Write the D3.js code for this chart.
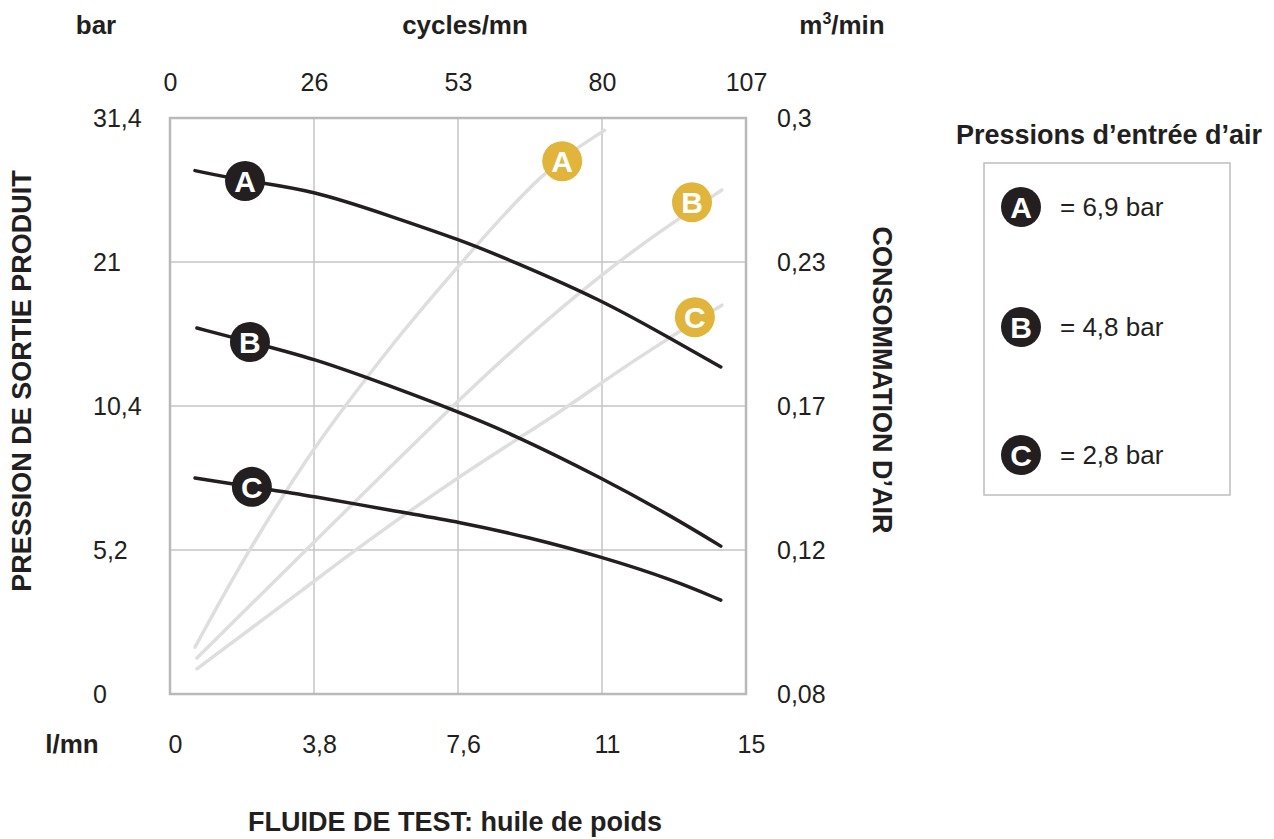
<!DOCTYPE html>
<html>
<head>
<meta charset="utf-8">
<script src="https://cdnjs.cloudflare.com/ajax/libs/d3/7.8.5/d3.min.js"></script>
<style>
  body { margin: 0; background: #fff; }
  text { font-family: "Liberation Sans", Arial, Helvetica, sans-serif; fill: #231f20; }
</style>
</head>
<body>
<div id="chart"></div>
<script>
// tick values of the four axes (equally spaced on the grid)
const flowTicks = [0, 3.8, 7.6, 11, 15];          // l/mn (bottom)
const cycleTicks = [0, 26, 53, 80, 107];           // cycles/mn (top)
const pressTicks = [0, 5.2, 10.4, 21, 31.4];       // bar (left)
const airTicks = [0.08, 0.12, 0.17, 0.23, 0.3];    // m3/min (right)

const series = ["A", "B", "C"];
const inletPressure = ["6,9", "4,8", "2,8"];

// outlet pressure curves [l/mn, bar]
const pressA = [[0.66, 27.6], [1.98, 26.85], [3.77, 26.2], [5.88, 24.25], [7.65, 22.6], [8.83, 21.14], [11, 18.2], [12.97, 15.26], [14.3, 13.27]];
const pressB = [[0.71, 16.14], [2.11, 15.11], [3.77, 13.93], [5.88, 11.8], [7.47, 10.26], [8.83, 9.43], [11, 7.8], [12.97, 6.39], [14.3, 5.34]];
const pressC = [[0.66, 7.8], [2.16, 7.48], [3.77, 7.15], [5.88, 6.61], [7.65, 6.21], [9.23, 5.67], [11, 4.95], [12.97, 4.12], [14.3, 3.39]];

// air consumption curves [l/mn, m3/min]
const airA = [[0.66, 0.093], [2.06, 0.12], [3.77, 0.155], [4.62, 0.17], [6.07, 0.2], [7.69, 0.23], [9.61, 0.275], [11.07, 0.294]];
const airB = [[0.71, 0.09], [3.59, 0.12], [7.44, 0.17], [9.3, 0.2], [11, 0.225], [12.61, 0.245], [14.33, 0.265]];
const airC = [[0.71, 0.087], [3.77, 0.111], [4.88, 0.12], [7.65, 0.146], [10.14, 0.169], [11, 0.18], [12.61, 0.196], [14.33, 0.212]];

// where the letter badges sit on the curves
const pressLabels = [[1.98, 26.85], [2.11, 15.11], [2.16, 7.48]];
const airLabels = [[10.06, 0.279], [13.5, 0.259], [13.58, 0.207]];

const W = 1274, H = 839;
const plot = {left: 170, right: 746, top: 118, bottom: 694};
const gold = "#e1b53c", ink = "#231f20";

const comma = d => String(d).replace(".", ",");
const steps = (a, b) => d3.range(5).map(i => a + i * (b - a) / 4);

const x = d3.scaleLinear().domain(flowTicks).range(steps(plot.left, plot.right));
const xTop = d3.scaleLinear().domain(cycleTicks).range(steps(plot.left, plot.right));
const yP = d3.scaleLinear().domain(pressTicks).range(steps(plot.bottom, plot.top));
const yA = d3.scaleLinear().domain(airTicks).range(steps(plot.bottom, plot.top));

const svg = d3.select("#chart").append("svg")
    .attr("width", W)
    .attr("height", H);

// grid
svg.append("g")
    .selectAll("line")
    .data(flowTicks.slice(1, -1))
    .join("line")
    .attr("x1", d => x(d)).attr("x2", d => x(d))
    .attr("y1", plot.top).attr("y2", plot.bottom)
    .attr("stroke", "#c4c4c4").attr("stroke-width", 1.5);
svg.append("g")
    .selectAll("line")
    .data(pressTicks.slice(1, -1))
    .join("line")
    .attr("x1", plot.left).attr("x2", plot.right)
    .attr("y1", d => yP(d)).attr("y2", d => yP(d))
    .attr("stroke", "#c4c4c4").attr("stroke-width", 1.5);
svg.append("rect")
    .attr("x", plot.left).attr("y", plot.top)
    .attr("width", plot.right - plot.left).attr("height", plot.bottom - plot.top)
    .attr("fill", "none").attr("stroke", "#b9b9b9").attr("stroke-width", 2.5);

// axes
function styleAxis(g) {
    g.select(".domain").remove();
    g.selectAll(".tick line").remove();
    g.selectAll("text").attr("font-size", 25).attr("font-family", null).attr("fill", ink);
}

svg.append("g")
    .attr("transform", `translate(0, ${plot.bottom})`)
    .call(d3.axisBottom(x).tickValues(flowTicks).tickFormat(comma).tickSize(0))
    .call(styleAxis)
    .selectAll("text").attr("y", 50).attr("dy", "0.35em").attr("dx", 5);

svg.append("g")
    .attr("transform", `translate(0, ${plot.top})`)
    .call(d3.axisTop(xTop).tickValues(cycleTicks).tickSize(0))
    .call(styleAxis)
    .selectAll("text").attr("y", -36).attr("dy", "0.35em");

svg.append("g")
    .attr("transform", `translate(${plot.left}, 0)`)
    .call(d3.axisLeft(yP).tickValues(pressTicks).tickFormat(comma).tickSize(0))
    .call(styleAxis)
    .selectAll("text").attr("x", 93 - plot.left).attr("text-anchor", "start");

svg.append("g")
    .attr("transform", `translate(${plot.right}, 0)`)
    .call(d3.axisRight(yA).tickValues(airTicks).tickFormat(comma).tickSize(0))
    .call(styleAxis)
    .selectAll("text").attr("x", 777 - plot.right).attr("text-anchor", "start");

// unit labels and titles
const bold = (t, px, py, size) => svg.append("text")
    .attr("x", px).attr("y", py)
    .attr("text-anchor", "middle").attr("dy", "0.35em")
    .attr("font-size", size || 26).attr("font-weight", "bold")
    .text(t);

bold("bar", 96, 25);
bold("cycles/mn", 465, 25);
const m3 = bold("", 842, 25);
m3.append("tspan").text("m");
m3.append("tspan").attr("font-size", 16).attr("dy", -10).text("3");
m3.append("tspan").attr("dy", 10).text("/min");
bold("l/mn", 72, 744);
bold("FLUIDE DE TEST: huile de poids", 455, 822, 27);
bold("PRESSION DE SORTIE PRODUIT", 0, 0, 27)
    .attr("transform", "translate(22, 381) rotate(-90)");
bold("CONSOMMATION D\u2019AIR", 0, 0, 27)
    .attr("transform", "translate(882, 380) rotate(90)");

// curves
const lineP = d3.line().x(d => x(d[0])).y(d => yP(d[1])).curve(d3.curveBasis);
const lineA = d3.line().x(d => x(d[0])).y(d => yA(d[1])).curve(d3.curveBasis);

svg.append("g")
    .selectAll("path")
    .data([airA, airB, airC])
    .join("path")
    .attr("d", lineA)
    .attr("fill", "none").attr("stroke", "#dedede")
    .attr("stroke-width", 3.5).attr("stroke-linecap", "round");

function badge(g, cx, cy, letter, color) {
    g.append("circle").attr("cx", cx).attr("cy", cy).attr("r", 20).attr("fill", color);
    g.append("text")
        .attr("x", cx).attr("y", cy)
        .attr("text-anchor", "middle").attr("dy", "0.36em")
        .attr("font-size", 30).attr("font-weight", "bold")
        .style("fill", "#fff")
        .text(letter);
}

const goldG = svg.append("g");
airLabels.forEach((d, i) => badge(goldG, x(d[0]), yA(d[1]), series[i], gold));

svg.append("g")
    .selectAll("path")
    .data([pressA, pressB, pressC])
    .join("path")
    .attr("d", lineP)
    .attr("fill", "none").attr("stroke", ink)
    .attr("stroke-width", 3.5).attr("stroke-linecap", "round");

const blackG = svg.append("g");
pressLabels.forEach((d, i) => badge(blackG, x(d[0]), yP(d[1]), series[i], ink));

// legend
bold("Pressions d\u2019entr\u00e9e d\u2019air", 1109, 135, 27);
svg.append("rect")
    .attr("x", 984).attr("y", 163).attr("width", 246).attr("height", 332)
    .attr("fill", "none").attr("stroke", "#bdbdbd").attr("stroke-width", 1.5);

const legendY = [207, 327, 455];
const legG = svg.append("g");
series.forEach((s, i) => {
    badge(legG, 1021, legendY[i], s, ink);
    legG.append("text")
        .attr("x", 1060).attr("y", legendY[i]).attr("dy", "0.35em")
        .attr("font-size", 26)
        .text(`= ${inletPressure[i]} bar`);
});
</script>
</body>
</html>
